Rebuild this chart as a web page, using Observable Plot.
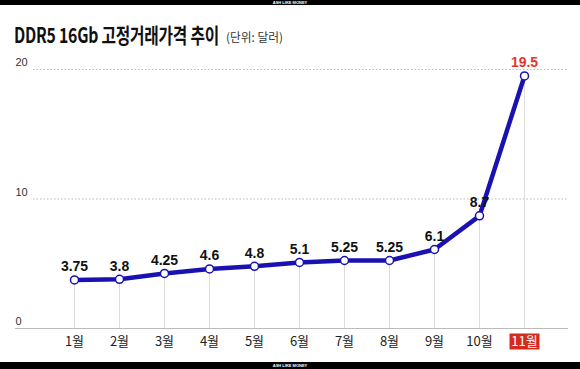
<!DOCTYPE html>
<html>
<head>
<meta charset="utf-8">
<script src="https://cdn.jsdelivr.net/npm/d3@7"></script>
<script src="https://cdn.jsdelivr.net/npm/@observablehq/plot@0.6"></script>
<style>
  html, body { margin: 0; padding: 0; background: #fff; }
  body { width: 580px; height: 369px; position: relative; overflow: hidden; font-family: "Noto Sans CJK KR", "Liberation Sans", sans-serif; }
  .bar { position: absolute; left: 0; width: 580px; background: #000; color: #fff; font: bold 4px "Liberation Sans", sans-serif; text-align: center; }
  .top { top: 0; height: 5px; line-height: 5px; }
  .bottom { top: 362px; height: 7px; line-height: 7px; }
  .t { position: absolute; white-space: nowrap; transform-origin: left center; }
  #main { left: 14px; top: 19px; font-size: 21px; font-weight: bold; color: #111; letter-spacing: -0.3px; }
  #unit { left: 226px; top: 28px; font-size: 12px; color: #333; }
  #chart { position: absolute; left: 0; top: 55px; }
</style>
</head>
<body>
<div class="bar top">ASH LIKE MONEY</div>
<div id="main" class="t">DDR5 16Gb 고정거래가격 추이</div>
<div id="unit" class="t">(단위: 달러)</div>
<div id="chart"></div>
<div class="bar bottom">ASH LIKE MONEY</div>
<script>
const months = ["1월","2월","3월","4월","5월","6월","7월","8월","9월","10월","11월"];
const prices = [3.75, 3.8, 4.25, 4.6, 4.8, 5.1, 5.25, 5.25, 6.1, 8.7, 19.5];
const yTicks = [0, 10, 20];

const data = months.map((m, i) => ({month: m, price: prices[i]}));
const last = data[data.length - 1];
const rest = data.slice(0, -1);

const blue = "#1a12b0";
const red = "#e03a2c";
const labelFont = "'Liberation Sans', Arial, sans-serif";

const boxSymbol = { draw(ctx) { ctx.rect(-15, -8, 30, 16); } };

const chart = Plot.plot({
  width: 580,
  height: 305,
  marginTop: 14,
  marginBottom: 32,
  marginLeft: 15,
  marginRight: 12,
  style: { fontFamily: "'Noto Sans CJK KR', sans-serif", background: "transparent" },
  x: { type: "point", domain: months, range: [71, 527], padding: 0, axis: null },
  y: { domain: [0, 20], axis: null },
  marks: [
    Plot.ruleY([10, 20], { stroke: "#bbb", strokeDasharray: "1.5,2", insetLeft: 18 }),
    Plot.ruleY([0], { stroke: "#bbb", strokeWidth: 1.2 }),
    Plot.ruleX(data, { x: "month", y1: 0, y2: "price", stroke: "#ddd" }),
    Plot.line(data, { x: "month", y: "price", stroke: blue, strokeWidth: 4.5 }),
    Plot.dot(data, { x: "month", y: "price", r: 4, fill: "#fff", stroke: blue, strokeWidth: 1.5 }),
    Plot.text(rest, { x: "month", y: "price", text: d => String(d.price), dy: -13, fontSize: 14, fontWeight: "bold", fill: "#111", fontFamily: labelFont }),
    Plot.text([last], { x: "month", y: "price", text: d => String(d.price), dy: -13, fontSize: 14, fontWeight: "bold", fill: red, fontFamily: labelFont }),
    Plot.text(yTicks, { y: d => d, frameAnchor: "left", textAnchor: "start", dy: -7, fontSize: 11, fill: "#333", fontFamily: labelFont }),
    Plot.dot([last], { x: "month", y: () => 0, dy: 13, symbol: boxSymbol, fill: "#d42b1e", stroke: "none" }),
    Plot.text(rest, { x: "month", y: () => 0, dy: 13, text: "month", fontSize: 13, fill: "#222" }),
    Plot.text([last], { x: "month", y: () => 0, dy: 13, text: "month", fontSize: 13, fill: "#fff" })
  ]
});
document.getElementById("chart").appendChild(chart);

function fit(id, target) {
  const el = document.getElementById(id);
  const w = el.getBoundingClientRect().width;
  el.style.transform = `scaleX(${target / w})`;
}
fit("main", 205);
fit("unit", 57);
</script>
</body>
</html>
